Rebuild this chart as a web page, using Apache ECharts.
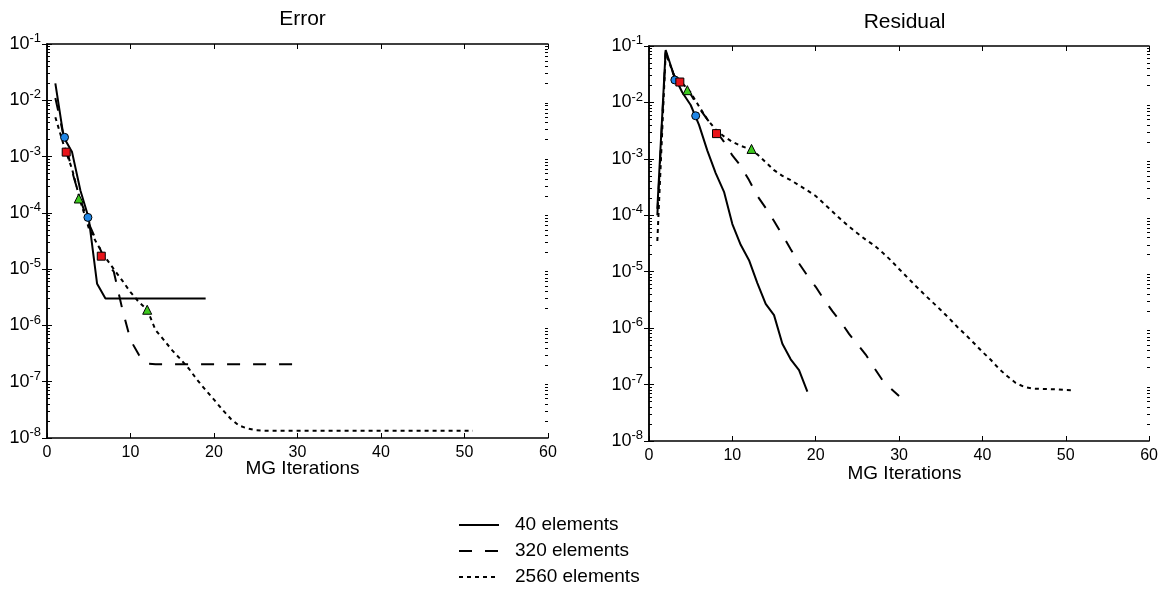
<!DOCTYPE html>
<html><head><meta charset="utf-8">
<script src="https://cdn.jsdelivr.net/npm/echarts@6/dist/echarts.min.js"></script>
<style>html,body{margin:0;padding:0;background:#fff}#c{width:1161px;height:598px}</style>
</head><body><div id="c"></div>
<script>
// ---------- data ----------
const seriesNames = ['40 elements', '320 elements', '2560 elements'];
const panelTitles = ['Error', 'Residual'];
const xAxisName = 'MG Iterations';
const xTickLabels = [0, 10, 20, 30, 40, 50, 60];
const yDecades = [1e-8, 1e-7, 1e-6, 1e-5, 1e-4, 1e-3, 1e-2, 1e-1];

// Error panel (value at MG iteration 1, 2, 3, ...)
const error40 = [2.0e-2, 2.2e-3, 1.2e-3, 2.5e-4, 8.0e-5, 5.5e-6, 3.0e-6, 3.0e-6, 3.0e-6, 3.0e-6,
  3.0e-6, 3.0e-6, 3.0e-6, 3.0e-6, 3.0e-6, 3.0e-6, 3.0e-6, 3.0e-6, 3.0e-6];
const error320 = [1.1e-2, 2.3e-3, 5.5e-4, 1.7e-4, 6.5e-5, 3.0e-5, 1.4e-5, 9.0e-6, 2.0e-6, 5.5e-7,
  3.0e-7, 2.1e-7, 2.05e-7, 2.05e-7, 2.05e-7, 2.05e-7, 2.05e-7, 2.05e-7, 2.05e-7, 2.05e-7,
  2.05e-7, 2.05e-7, 2.05e-7, 2.05e-7, 2.05e-7, 2.05e-7, 2.05e-7, 2.05e-7, 2.05e-7, 2.05e-7];
const error2560 = [5.0e-3, 1.6e-3, 6.0e-4, 1.6e-4, 5.4e-5, 2.8e-5, 1.6e-5, 1.0e-5, 6.3e-6, 3.9e-6,
  2.6e-6, 1.9e-6, 8.3e-7, 5.5e-7, 3.6e-7, 2.5e-7, 1.7e-7, 1.07e-7, 7.1e-8, 4.8e-8,
  3.2e-8, 2.2e-8, 1.66e-8, 1.48e-8, 1.38e-8, 1.35e-8, 1.35e-8, 1.35e-8, 1.35e-8, 1.35e-8,
  1.35e-8, 1.35e-8, 1.35e-8, 1.35e-8, 1.35e-8, 1.35e-8, 1.35e-8, 1.35e-8, 1.35e-8, 1.35e-8,
  1.35e-8, 1.35e-8, 1.35e-8, 1.35e-8, 1.35e-8, 1.35e-8, 1.35e-8, 1.35e-8, 1.35e-8, 1.35e-8, 1.35e-8];

// Residual panel
const residual40 = [1.3e-4, 8.5e-2, 3.0e-2, 1.5e-2, 9.0e-3, 4.0e-3, 1.4e-3, 5.6e-4, 2.6e-4, 7.0e-5,
  3.0e-5, 1.6e-5, 6.3e-6, 2.7e-6, 1.7e-6, 5.3e-7, 2.8e-7, 1.8e-7, 7.5e-8];
const residual320 = [1.0e-4, 8.0e-2, 3.0e-2, 2.2e-2, 1.4e-2, 8.0e-3, 5.0e-3, 3.2e-3, 2.0e-3, 1.15e-3,
  7.5e-4, 4.2e-4, 2.2e-4, 1.35e-4, 7.9e-5, 4.5e-5, 2.5e-5, 1.4e-5, 8.5e-6, 5.4e-6,
  3.2e-6, 2.0e-6, 1.3e-6, 7.9e-7, 5.2e-7, 3.4e-7, 2.0e-7, 1.2e-7, 8.5e-8, 6.3e-8];
const residual2560 = [3.5e-5, 7.5e-2, 3.0e-2, 2.2e-2, 1.5e-2, 8.5e-3, 5.0e-3, 3.3e-3, 2.5e-3, 2.0e-3,
  1.7e-3, 1.5e-3, 1.2e-3, 8.7e-4, 6.3e-4, 5.0e-4, 4.2e-4, 3.4e-4, 2.75e-4, 2.2e-4,
  1.6e-4, 1.17e-4, 8.5e-5, 6.3e-5, 4.8e-5, 3.7e-5, 2.95e-5, 2.2e-5, 1.6e-5, 1.12e-5,
  7.9e-6, 5.6e-6, 4.0e-6, 2.9e-6, 2.1e-6, 1.5e-6, 1.05e-6, 7.6e-7, 5.4e-7, 3.8e-7,
  2.75e-7, 1.9e-7, 1.4e-7, 1.07e-7, 9.1e-8, 8.5e-8, 8.4e-8, 8.3e-8, 8.2e-8, 8.0e-8, 7.9e-8];

// marker points [iteration, value]
const errCircles = [[2.1, 2.2e-3], [4.9, 8.3e-5]];
const errSquares = [[2.3, 1.2e-3], [6.5, 1.7e-5]];
const errTriangles = [[3.8, 1.8e-4], [12.0, 1.9e-6]];
const resCircles = [[3.1, 2.5e-2], [5.6, 5.8e-3]];
const resSquares = [[3.7, 2.3e-2], [8.1, 2.8e-3]];
const resTriangles = [[4.6, 1.65e-2], [12.3, 1.5e-3]];

// ---------- chart ----------
const FONT = 'Liberation Sans, Arial, sans-serif';
const minorVals = [];
for (let e = -8; e <= -2; e++) for (let k = 2; k <= 9; k++) minorVals.push(+(k * Math.pow(10, e)).toPrecision(3));

const panelRects = [
  { left: 47, top: 44, width: 501, height: 394 },
  { left: 649, top: 46, width: 501, height: 395 }
];
// grids 0,1 = panels; 2,3 = thin strips left of each panel (right-side axis -> left minor ticks);
// 4,5 = panel overlays carrying right-side minor ticks
const grids = panelRects
  .concat(panelRects.map(r => ({ left: r.left - 10, top: r.top, width: 10, height: r.height })))
  .concat(panelRects.map(r => Object.assign({}, r)));
const axisLineStyle = { color: '#000', width: 1.5 };
const xAxes = [], yAxes = [], titles = [];
panelRects.forEach((g, i) => {
  titles.push({ text: panelTitles[i], left: g.left + g.width / 2, top: g.top - 40 + (i ? 1 : 0), textAlign: 'center',
    textStyle: { fontFamily: FONT, fontSize: 21, fontWeight: 'normal', color: '#000' } });
  titles.push({ text: xAxisName, left: g.left + g.width / 2, top: g.top + g.height + 16 + (i ? 2 : 0), textAlign: 'center',
    textStyle: { fontFamily: FONT, fontSize: 19, fontWeight: 'normal', color: '#000' } });
  xAxes.push({ type: 'value', gridIndex: i, min: 0, max: 60, interval: 10, position: 'bottom',
    axisLine: { lineStyle: axisLineStyle }, axisTick: { inside: true, length: 5, lineStyle: { color: '#000' } },
    axisLabel: { fontFamily: FONT, fontSize: 16, color: '#000', margin: 7, customValues: xTickLabels },
    splitLine: { show: false } });
  xAxes.push({ type: 'value', gridIndex: i, min: 0, max: 60, interval: 10, position: 'top',
    axisLine: { lineStyle: axisLineStyle }, axisTick: { inside: true, length: 5, lineStyle: { color: '#000' } },
    axisLabel: { show: false }, splitLine: { show: false } });
  ['left', 'right'].forEach(pos => {
    yAxes.push({ type: 'log', logBase: 10, gridIndex: i, min: 1e-8, max: 1e-1, position: pos,
      axisLine: { show: true, lineStyle: axisLineStyle },
      axisTick: { show: true, inside: true, length: 5, customValues: yDecades, lineStyle: { color: '#000' } },
      axisLabel: pos === 'left' ? { show: true, customValues: yDecades, margin: 6,
        formatter: v => '{b|10}{s|' + Math.round(Math.log10(v)) + '}',
        rich: { b: { fontFamily: FONT, fontSize: 18, color: '#000' },
                s: { fontFamily: FONT, fontSize: 13, color: '#000', padding: [0, 0, 11, 0] } } } : { show: false },
      splitLine: { show: false } });
  });
});
// minor ticks: strip grids (right axis, ticks pointing outward = into the panel) and overlay grids (right axis, inside)
[false, true].forEach((inside, s) => {
  panelRects.forEach((g, i) => {
    const gi = 2 + 2 * s + i;
    xAxes.push({ type: 'value', gridIndex: gi, min: 0, max: 60, show: false });
    yAxes.push({ type: 'log', logBase: 10, gridIndex: gi, min: 1e-8, max: 1e-1, position: 'right',
      axisLine: { show: false, onZero: false },
      axisTick: { show: true, inside: inside, length: 3, customValues: minorVals, lineStyle: { color: '#000', width: 1 } },
      axisLabel: { show: false }, splitLine: { show: false } });
  });
});

const dashTypes = ['solid', [13, 13], [4, 4]];
const panelData = [[error40, error320, error2560], [residual40, residual320, residual2560]];
const panelMarkers = [[errCircles, errSquares, errTriangles], [resCircles, resSquares, resTriangles]];
const markerShapes = ['circle', 'rect', 'triangle'];
const markerColors = ['#1f86e6', '#e8141a', '#3cc81e'];
const series = [];
panelData.forEach((arrs, p) => {
  arrs.forEach((vals, k) => {
    series.push({ type: 'line', name: seriesNames[k], xAxisIndex: 2 * p, yAxisIndex: 2 * p,
      data: vals.map((v, j) => [j + 1, v]), symbol: 'none', showSymbol: false, animation: false,
      lineStyle: { color: '#000', width: 2, type: dashTypes[k] }, itemStyle: { color: '#000' }, z: 2 });
  });
  panelMarkers[p].forEach((pts, k) => {
    series.push({ type: 'scatter', name: 'marker' + p + k, xAxisIndex: 2 * p, yAxisIndex: 2 * p,
      data: pts, symbol: markerShapes[k], symbolSize: k === 2 ? 9 : 8, animation: false,
      itemStyle: { color: markerColors[k], borderColor: '#000', borderWidth: 1, opacity: 1 }, z: 5 });
  });
});

const chart = echarts.init(document.getElementById('c'), null, { renderer: 'canvas' });
chart.setOption({
  backgroundColor: '#fff',
  animation: false,
  title: titles,
  grid: grids,
  xAxis: xAxes,
  yAxis: yAxes,
  legend: { data: seriesNames, orient: 'vertical', left: 453, top: 510, itemWidth: 40, itemHeight: 14, itemGap: 6,
    itemStyle: { opacity: 0, borderWidth: 0 },
    textStyle: { fontFamily: FONT, fontSize: 19, color: '#000', lineHeight: 20, padding: [0, 0, 0, 11] } },
  series: series
});
</script></body></html>
